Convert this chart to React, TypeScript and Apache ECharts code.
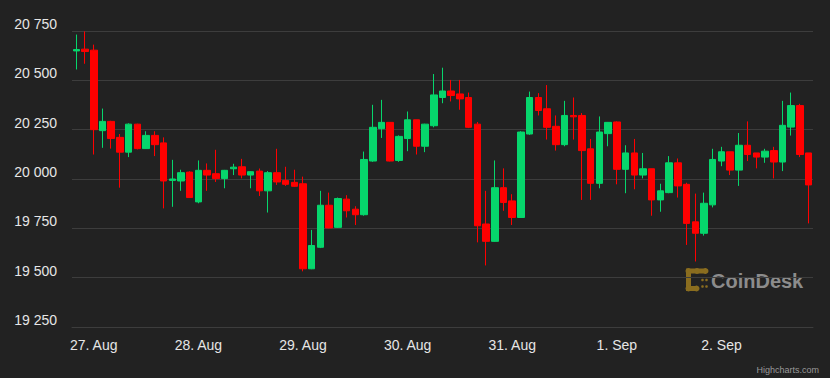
import React, { useEffect, useRef } from "react";
import * as echarts from "echarts";

// Day names covering the 2-hour candles (first candle: 26. Aug 20:00)
const dayLabels = ["26. Aug", "27. Aug", "28. Aug", "29. Aug", "30. Aug", "31. Aug", "1. Sep", "2. Sep", "3. Sep"];
const firstSlot = 10; // 20:00 on the first day, in 2-hour slots

const opens = [
  20649, 20658, 20653, 20245, 20292, 20211, 20136, 20278, 20154, 20221,
  20183, 19993, 19990, 20035, 19884, 20044, 20027, 20002, 20052, 20062,
  20020, 20040, 19940, 20032, 19993, 19983, 19976, 19545, 19654, 19867,
  19755, 19898, 19847, 19819, 20091, 20255, 20287, 20094, 20205, 20300,
  20166, 20270, 20413, 20446, 20431, 20413, 20278, 19772, 19684, 19956,
  19889, 19805, 20228, 20413, 20356, 20267, 20174, 20322, 20322, 20153,
  19978, 20230, 20289, 20049, 20132, 20020, 20052, 19894, 19931, 20082,
  19973, 19783, 19725, 19869, 20091, 20138, 20045, 20171, 20132, 20111,
  20144, 20086, 20263, 20372, 20132,
];
const closes = [
  20656, 20646, 20250, 20292, 20205, 20136, 20278, 20154, 20221, 20174,
  19990, 20000, 20032, 19906, 20044, 20020, 20002, 20044, 20060, 20020,
  20037, 19940, 20032, 19985, 19973, 19963, 19545, 19663, 19867, 19752,
  19901, 19839, 19819, 20099, 20262, 20287, 20091, 20216, 20300, 20166,
  20278, 20426, 20446, 20423, 20406, 20262, 19763, 19684, 19956, 19881,
  19805, 20238, 20413, 20347, 20262, 20174, 20322, 20315, 20144, 19978,
  20238, 20287, 20049, 20132, 20020, 20052, 19894, 19940, 20082, 19965,
  19775, 19725, 19877, 20099, 20138, 20045, 20171, 20124, 20111, 20141,
  20086, 20272, 20372, 20124, 19970,
];
const lows = [
  20555, 20584, 20124, 20158, 20154, 19956, 20111, 20150, 20152, 20116,
  19851, 19859, 19940, 19904, 19877, 19940, 19985, 19953, 20020, 20003,
  19953, 19914, 19830, 19970, 19965, 19960, 19532, 19543, 19650, 19750,
  19752, 19805, 19767, 19814, 20087, 20208, 20089, 20087, 20141, 20124,
  20136, 20262, 20384, 20393, 20351, 20258, 19679, 19562, 19682, 19839,
  19767, 19803, 20224, 20322, 20200, 20144, 20166, 20200, 19894, 19894,
  19953, 20166, 19973, 19928, 19948, 20003, 19814, 19834, 19928, 19906,
  19666, 19582, 19713, 19856, 20065, 20020, 19965, 20091, 20054, 20082,
  20003, 20040, 20220, 20111, 19775,
];
const highs = [
  20732, 20748, 20681, 20357, 20295, 20228, 20282, 20280, 20242, 20242,
  20211, 20097, 20047, 20039, 20094, 20079, 20148, 20046, 20077, 20102,
  20039, 20053, 20040, 20153, 20062, 20047, 20012, 19742, 19940, 19931,
  19906, 19918, 19862, 20139, 20376, 20401, 20287, 20221, 20342, 20300,
  20280, 20532, 20564, 20502, 20502, 20438, 20289, 19940, 20094, 20054,
  19923, 20242, 20443, 20435, 20476, 20322, 20396, 20413, 20334, 20203,
  20317, 20289, 20292, 20171, 20203, 20132, 20052, 19976, 20116, 20104,
  19981, 19926, 19931, 20153, 20163, 20138, 20233, 20292, 20132, 20153,
  20163, 20396, 20438, 20381, 20132,
];

const yMin = 19250;
const yMax = 20750;
const yStep = 250;

const categories = opens.map((_, i) => {
  const slot = firstSlot + i;
  const day = dayLabels[Math.floor(slot / 12)];
  const hour = (slot % 12) * 2;
  return `${day} ${String(hour).padStart(2, "0")}:00`;
});

const candleData = opens.map((o, i) => [o, closes[i], lows[i], highs[i]]);

const BG = "#222222";
const GRID = "#3d3d3d";
const UP = "#06d66c";
const DOWN = "#ff0000";
const GOLD = "#8a6d1f";

export default function App() {
  const ref = useRef<HTMLDivElement>(null);

  useEffect(() => {
    document.body.style.margin = "0";
    const chart = echarts.init(ref.current as HTMLDivElement, null, { renderer: "svg" });
    chart.setOption({
      animation: false,
      backgroundColor: BG,
      textStyle: { fontFamily: '"Liberation Sans", Arial, sans-serif' },
      grid: { left: 72, width: 741, top: 31, bottom: 51, containLabel: false },
      xAxis: {
        type: "category",
        data: categories,
        boundaryGap: true,
        axisLine: { show: true, lineStyle: { color: GRID, width: 1 } },
        axisTick: { show: false },
        splitLine: { show: false },
        axisLabel: {
          interval: (_idx: number, value: string) => value.endsWith(" 00:00"),
          formatter: (value: string) => value.replace(/ \d\d:00$/, ""),
          color: "#e6e6e6",
          fontSize: 14,
          margin: 11,
          fontFamily: '"Liberation Sans", Arial, sans-serif',
        },
      },
      yAxis: {
        type: "value",
        min: yMin,
        max: yMax,
        interval: yStep,
        position: "left",
        axisLine: { show: false },
        axisTick: { show: false },
        splitLine: { show: true, lineStyle: { color: GRID, width: 1 } },
        axisLabel: {
          color: "#e6e6e6",
          fontSize: 14,
          margin: 15,
          verticalAlign: "bottom",
          fontFamily: '"Liberation Sans", Arial, sans-serif',
          formatter: (v: number) => String(v).replace(/\B(?=(\d{3})+(?!\d))/g, " "),
        },
      },
      series: [
        {
          type: "candlestick",
          data: candleData,
          barWidth: 7,
          itemStyle: {
            color: UP,
            color0: DOWN,
            borderColor: UP,
            borderColor0: DOWN,
            borderWidth: 1,
          },
        },
      ],
      graphic: [
        {
          type: "group",
          z: 100,
          children: [
            { type: "rect", shape: { x: 683, y: 266, width: 124, height: 28 }, style: { fill: BG } },
            // icon: bracket with dots
            { type: "rect", shape: { x: 686, y: 268.5, width: 20, height: 5 }, style: { fill: GOLD } },
            { type: "circle", shape: { cx: 688.5, cy: 271, r: 3 }, style: { fill: GOLD } },
            { type: "circle", shape: { cx: 697, cy: 271, r: 3 }, style: { fill: GOLD } },
            { type: "circle", shape: { cx: 705.5, cy: 271, r: 3 }, style: { fill: GOLD } },
            { type: "rect", shape: { x: 686, y: 270, width: 5, height: 20 }, style: { fill: GOLD } },
            { type: "rect", shape: { x: 686, y: 286, width: 11, height: 5 }, style: { fill: GOLD } },
            { type: "circle", shape: { cx: 688.5, cy: 288.5, r: 3 }, style: { fill: GOLD } },
            { type: "circle", shape: { cx: 696.5, cy: 288.5, r: 3 }, style: { fill: GOLD } },
            { type: "circle", shape: { cx: 702.5, cy: 280, r: 1.3 }, style: { fill: GOLD } },
            { type: "circle", shape: { cx: 706.5, cy: 280, r: 1.3 }, style: { fill: GOLD } },
            { type: "circle", shape: { cx: 702.5, cy: 286.5, r: 1.3 }, style: { fill: GOLD } },
            { type: "circle", shape: { cx: 706.5, cy: 286.5, r: 1.3 }, style: { fill: GOLD } },
            {
              type: "text",
              style: {
                text: "CoinDesk",
                x: 711,
                y: 281,
                fill: "#8c8c8c",
                font: 'bold 20px "Liberation Sans", Arial, sans-serif',
                align: "left",
                verticalAlign: "middle",
              },
            },
          ],
        },
        {
          type: "text",
          z: 100,
          style: {
            text: "Highcharts.com",
            x: 819,
            y: 370,
            fill: "#999999",
            font: '9px "Liberation Sans", Arial, sans-serif',
            align: "right",
            verticalAlign: "middle",
          },
        },
      ],
    });
    return () => chart.dispose();
  }, []);

  return <div ref={ref} style={{ width: 830, height: 378 }} />;
}
